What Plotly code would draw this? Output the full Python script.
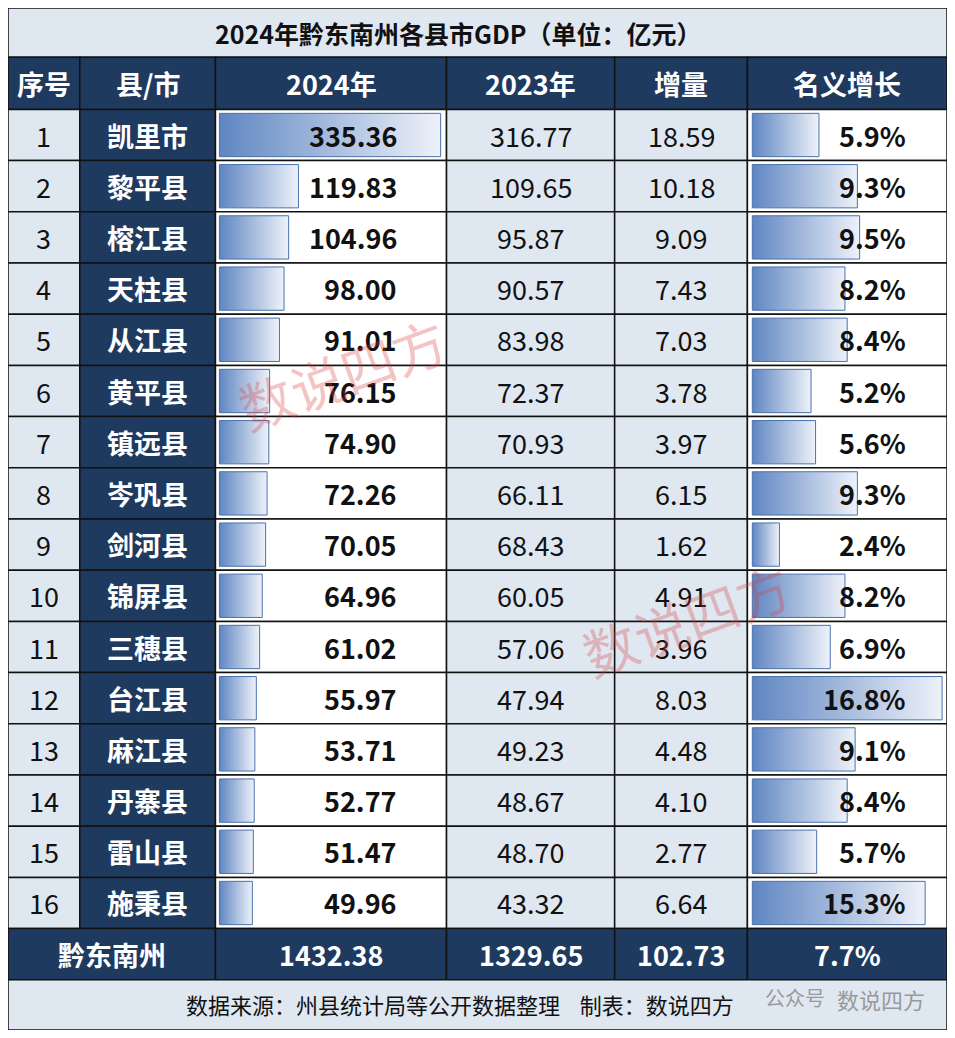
import plotly.graph_objects as go

counties = ["凯里市","黎平县","榕江县","天柱县","从江县","黄平县","镇远县","岑巩县","剑河县","锦屏县","三穗县","台江县","麻江县","丹寨县","雷山县","施秉县"]
gdp2024 = [335.36,119.83,104.96,98.00,91.01,76.15,74.90,72.26,70.05,64.96,61.02,55.97,53.71,52.77,51.47,49.96]
gdp2023 = [316.77,109.65,95.87,90.57,83.98,72.37,70.93,66.11,68.43,60.05,57.06,47.94,49.23,48.67,48.70,43.32]
increase = [18.59,10.18,9.09,7.43,7.03,3.78,3.97,6.15,1.62,4.91,3.96,8.03,4.48,4.10,2.77,6.64]
growth = [5.9,9.3,9.5,8.2,8.4,5.2,5.6,9.3,2.4,8.2,6.9,16.8,9.1,8.4,5.7,15.3]
headers = ["序号","县/市","2024年","2023年","增量","名义增长"]
total = ["黔东南州","1432.38","1329.65","102.73","7.7%"]
title = "2024年黔东南州各县市GDP（单位：亿元）"
footer = "数据来源：州县统计局等公开数据整理    制表：数说四方"

W, H = 955, 1038
cols = [0, 73, 211, 446, 617, 752, 955]
top_head, top_rows, rh = 50, 103, 52
n = len(counties)
y_total = top_rows + n*rh
y_foot = y_total + 52

NAVY = "#1f3a5f"; LIGHT = "#dfe7f1"; WHITE = "#ffffff"
FONT = "Noto Sans CJK SC"
shapes = []
def rect(x0,y0,x1,y1,fill,lw=1.5):
    shapes.append(dict(type="rect",xref="x",yref="y",x0=x0,y0=y0,x1=x1,y1=y1,
                       fillcolor=fill,line=dict(color="#111111",width=lw),layer="below"))

rect(0,0,W,top_head,LIGHT)
for i in range(6):
    rect(cols[i],top_head,cols[i+1],top_rows,NAVY)
colfill = [LIGHT,NAVY,WHITE,LIGHT,LIGHT,WHITE]
for r in range(n):
    y0 = top_rows + r*rh
    for i in range(6):
        rect(cols[i],y0,cols[i+1],y0+rh,colfill[i])
rect(cols[0],y_total,cols[2],y_total+52,NAVY)
for i in range(2,6):
    rect(cols[i],y_total,cols[i+1],y_total+52,NAVY)
rect(0,y_foot,W,H,LIGHT)

fig = go.Figure()
def bar(x0,width,yc):
    h = rh-8
    fig.add_trace(go.Scatter(x=[x0,x0+width,x0+width,x0,x0],y=[yc-h/2,yc-h/2,yc+h/2,yc+h/2,yc-h/2],
        mode="lines",fill="toself",line=dict(color="#4a72b0",width=1),
        fillgradient=dict(type="horizontal",colorscale=[[0,"#5f86c2"],[1,"#eef2f9"]]),
        hoverinfo="skip",showlegend=False))
maxg = max(gdp2024); maxgr = max(growth)
for r in range(n):
    yc = top_rows + r*rh + rh/2
    bar(cols[2]+4, gdp2024[r]/maxg*225, yc)
    bar(cols[5]+5, growth[r]/maxgr*193, yc)

ann = []
def txt(x,y,t,size=27,color="#111",bold=False,xanchor="center"):
    ann.append(dict(x=x,y=y,xref="x",yref="y",text=f"<b>{t}</b>" if bold else t,showarrow=False,
                    xanchor=xanchor,yanchor="middle",font=dict(family=FONT,size=size,color=color)))
txt(W/2-20,top_head/2,title,size=25,bold=True)
for i,h in enumerate(headers):
    txt((cols[i]+cols[i+1])/2,(top_head+top_rows)/2,h,color="white",bold=True)
for r in range(n):
    yc = top_rows + r*rh + rh/2
    txt((cols[0]+cols[1])/2,yc,str(r+1))
    txt((cols[1]+cols[2])/2,yc,counties[r],color="white",bold=True)
    txt(cols[3]-48,yc,f"{gdp2024[r]:.2f}",bold=True,xanchor="right")
    txt((cols[3]+cols[4])/2,yc,f"{gdp2023[r]:.2f}")
    txt((cols[4]+cols[5])/2,yc,f"{increase[r]:.2f}")
    txt(cols[6]-40,yc,f"{growth[r]:.1f}%",bold=True,xanchor="right")
yt = y_total+26
txt((cols[0]+cols[2])/2,yt,total[0],color="white",bold=True)
for i in range(1,5):
    txt((cols[i+1]+cols[i+2])/2,yt,total[i],color="white",bold=True)
txt(460,y_foot+25,footer,size=22)
txt(888,y_foot+20,"数说四方",size=22,color="#999")
txt(800,y_foot+18,"公众号",size=20,color="#999")
for (x,y) in [(340,370),(690,620)]:
    ann.append(dict(x=x,y=y,xref="x",yref="y",text="数说四方",showarrow=False,textangle=-20,
                    font=dict(family=FONT,size=54,color="rgba(220,60,60,0.3)")))

fig.update_layout(width=W-16,height=H-16,margin=dict(l=0,r=0,t=0,b=0),shapes=shapes,annotations=ann,
    plot_bgcolor="white",paper_bgcolor="white",
    xaxis=dict(range=[0,W],visible=False,fixedrange=True),
    yaxis=dict(range=[H,0],visible=False,fixedrange=True))
fig.write_html("out.html")
